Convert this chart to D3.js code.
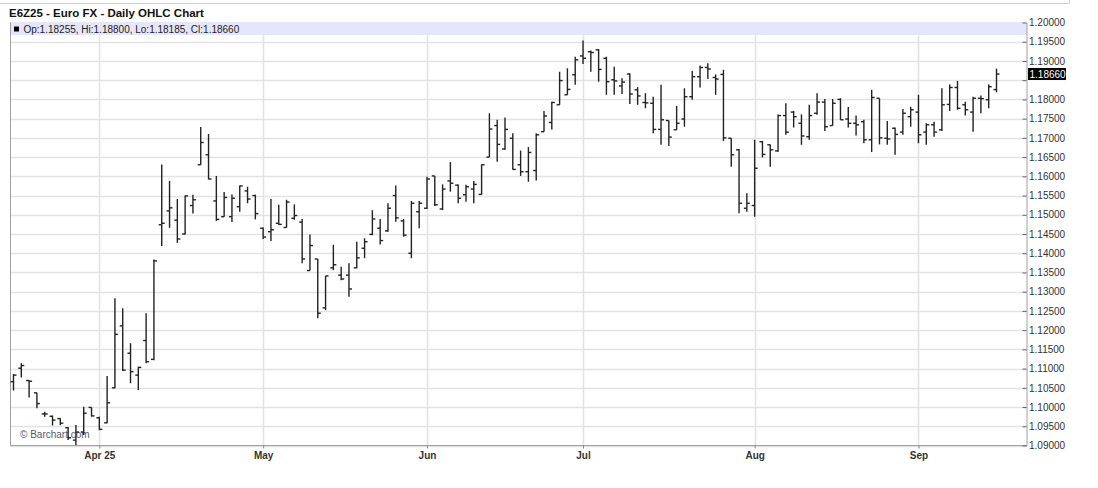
<!DOCTYPE html>
<html>
<head>
<meta charset="utf-8">
<script src="https://cdn.jsdelivr.net/npm/d3@7"></script>
<style>
  body { margin: 0; background: #fff; }
  svg { display: block; font-family: "Liberation Sans", Arial, sans-serif; }
</style>
</head>
<body>
<div id="chart"></div>
<script>
// trading days shown on the chart (Mar 17 - Sep 16, 2025)
const dates = [
  "2025-03-17","2025-03-18","2025-03-19","2025-03-20","2025-03-21","2025-03-24","2025-03-25","2025-03-26","2025-03-27","2025-03-28","2025-03-31",
  "2025-04-01","2025-04-02","2025-04-03","2025-04-04","2025-04-07","2025-04-08","2025-04-09","2025-04-10","2025-04-11","2025-04-14","2025-04-15",
  "2025-04-16","2025-04-17","2025-04-21","2025-04-22","2025-04-23","2025-04-24","2025-04-25","2025-04-28","2025-04-29","2025-04-30",
  "2025-05-01","2025-05-02","2025-05-05","2025-05-06","2025-05-07","2025-05-08","2025-05-09","2025-05-12","2025-05-13","2025-05-14","2025-05-15",
  "2025-05-16","2025-05-19","2025-05-20","2025-05-21","2025-05-22","2025-05-23","2025-05-27","2025-05-28","2025-05-29","2025-05-30",
  "2025-06-02","2025-06-03","2025-06-04","2025-06-05","2025-06-06","2025-06-09","2025-06-10","2025-06-11","2025-06-12","2025-06-13","2025-06-16",
  "2025-06-17","2025-06-18","2025-06-20","2025-06-23","2025-06-24","2025-06-25","2025-06-26","2025-06-27","2025-06-30",
  "2025-07-01","2025-07-02","2025-07-03","2025-07-07","2025-07-08","2025-07-09","2025-07-10","2025-07-11","2025-07-14","2025-07-15","2025-07-16",
  "2025-07-17","2025-07-18","2025-07-21","2025-07-22","2025-07-23","2025-07-24","2025-07-25","2025-07-28","2025-07-29","2025-07-30","2025-07-31",
  "2025-08-01","2025-08-04","2025-08-05","2025-08-06","2025-08-07","2025-08-08","2025-08-11","2025-08-12","2025-08-13","2025-08-14","2025-08-15",
  "2025-08-18","2025-08-19","2025-08-20","2025-08-21","2025-08-22","2025-08-25","2025-08-26","2025-08-27","2025-08-28","2025-08-29",
  "2025-09-02","2025-09-03","2025-09-04","2025-09-05","2025-09-08","2025-09-09","2025-09-10","2025-09-11","2025-09-12","2025-09-15","2025-09-16"
];

const opens = [
  1.1066,1.1101,1.1069,1.1037,1.0982,1.0976,1.0970,1.0946,1.0914,1.0935,1.0999,
  1.0972,1.0959,1.1050,1.1211,1.1140,1.1083,1.1173,1.1124,1.1474,1.1510,1.1486,
  1.1450,1.1524,1.1630,1.1656,1.1536,1.1495,1.1495,1.1521,1.1562,1.1550,
  1.1465,1.1456,1.1478,1.1467,1.1491,1.1481,1.1355,1.1385,1.1258,1.1362,1.1343,
  1.1343,1.1362,1.1413,1.1449,1.1465,1.1458,1.1550,1.1484,1.1400,1.1508,
  1.1517,1.1601,1.1515,1.1588,1.1577,1.1552,1.1567,1.1553,1.1650,1.1732,1.1671,
  1.1699,1.1630,1.1612,1.1615,1.1716,1.1740,1.1786,1.1812,1.1864,
  1.1913,1.1924,1.1929,1.1907,1.1851,1.1835,1.1866,1.1825,1.1792,1.1790,1.1722,
  1.1745,1.1721,1.1749,1.1807,1.1859,1.1883,1.1857,1.1865,1.1699,1.1669,1.1517,
  1.1524,1.1690,1.1682,1.1666,1.1758,1.1767,1.1738,1.1703,1.1764,1.1793,1.1732,
  1.1800,1.1749,1.1738,1.1742,1.1695,1.1803,1.1699,1.1725,1.1715,1.1755,
  1.1767,1.1715,1.1734,1.1721,1.1787,1.1831,1.1786,1.1767,1.1803,1.1799,1.18255
];
const highs = [
  1.1086,1.1114,1.1070,1.1037,1.0988,1.0978,1.0971,1.0948,1.0953,1.1001,1.0999,
  1.0975,1.1081,1.1283,1.1257,1.1166,1.1105,1.1244,1.1384,1.1631,1.1588,1.1541,
  1.1550,1.1552,1.1728,1.1710,1.1601,1.1559,1.1553,1.1576,1.1573,1.1552,
  1.1467,1.1541,1.1526,1.1539,1.1527,1.1489,1.1449,1.1385,1.1341,1.1422,1.1365,
  1.1374,1.1430,1.1439,1.1512,1.1489,1.1530,1.1576,1.1489,1.1536,1.1536,
  1.1599,1.1601,1.1579,1.1637,1.1579,1.1578,1.1588,1.1631,1.1764,1.1747,1.1753,
  1.1712,1.1667,1.1676,1.1712,1.1770,1.1794,1.1872,1.1881,1.1911,
  1.1953,1.1927,1.1931,1.1911,1.1885,1.1855,1.1868,1.1832,1.1816,1.1807,1.1838,
  1.1745,1.1783,1.1829,1.1874,1.1888,1.1894,1.1865,1.1877,1.1699,1.1671,1.1556,
  1.1695,1.1692,1.1683,1.1761,1.1790,1.1770,1.1761,1.1786,1.1816,1.1801,1.1801,
  1.1803,1.1780,1.1758,1.1747,1.1825,1.1803,1.1744,1.1727,1.1775,1.1781,
  1.1812,1.1738,1.1742,1.1829,1.1839,1.1848,1.1794,1.1807,1.1810,1.1839,1.18800
];
const lows = [
  1.1043,1.1077,1.1025,1.0997,1.0975,1.0952,1.0953,1.0914,1.0901,1.0927,1.0975,
  1.0940,1.0958,1.1049,1.1094,1.1062,1.1044,1.1114,1.1122,1.1419,1.1466,1.1427,
  1.1449,1.1503,1.1630,1.1592,1.1484,1.1495,1.1481,1.1508,1.1530,1.1488,
  1.1437,1.1432,1.1474,1.1467,1.1487,1.1374,1.1355,1.1231,1.1252,1.1356,1.1330,
  1.1287,1.1361,1.1387,1.1447,1.1423,1.1456,1.1482,1.1443,1.1387,1.1465,
  1.1515,1.1523,1.1512,1.1560,1.1530,1.1534,1.1530,1.1552,1.1650,1.1638,1.1669,
  1.1617,1.1601,1.1586,1.1589,1.1716,1.1722,1.1786,1.1812,1.1838,
  1.1892,1.1872,1.1846,1.1812,1.1812,1.1814,1.1788,1.1786,1.1777,1.1712,1.1682,
  1.1679,1.1721,1.1729,1.1799,1.1831,1.1853,1.1812,1.1692,1.1625,1.1504,1.1508,
  1.1495,1.1649,1.1625,1.1664,1.1708,1.1727,1.1682,1.1695,1.1760,1.1718,1.1732,
  1.1747,1.1727,1.1706,1.1686,1.1663,1.1683,1.1682,1.1656,1.1708,1.1729,
  1.1686,1.1682,1.1703,1.1718,1.1770,1.1773,1.1758,1.1716,1.1764,1.1777,1.18185
];
const closes = [
  1.1083,1.1108,1.1067,1.1009,1.0982,1.0966,1.0958,1.0920,1.0935,1.0984,1.0977,
  1.0942,1.1011,1.1189,1.1096,1.1092,1.1103,1.1118,1.1380,1.1478,1.1518,1.1437,
  1.1549,1.1539,1.1688,1.1593,1.1488,1.1545,1.1543,1.1575,1.1541,1.1503,
  1.1442,1.1461,1.1475,1.1533,1.1498,1.1385,1.1420,1.1244,1.1341,1.1370,1.1333,
  1.1307,1.1388,1.1430,1.1489,1.1433,1.1517,1.1492,1.1447,1.1530,1.1530,
  1.1593,1.1526,1.1567,1.1582,1.1543,1.1573,1.1579,1.1630,1.1723,1.1683,1.1722,
  1.1618,1.1612,1.1662,1.1708,1.1757,1.1792,1.1849,1.1826,1.1903,
  1.1907,1.1922,1.1878,1.1846,1.1848,1.1845,1.1814,1.1809,1.1791,1.1722,1.1747,
  1.1702,1.1738,1.1807,1.1859,1.1883,1.1879,1.1853,1.1700,1.1656,1.1530,1.1530,
  1.1621,1.1657,1.1669,1.1758,1.1715,1.1755,1.1705,1.1758,1.1793,1.1729,1.1790,
  1.1747,1.1738,1.1734,1.1695,1.1805,1.1700,1.1697,1.1709,1.1764,1.1773,
  1.1708,1.1734,1.1715,1.1786,1.1831,1.1777,1.1773,1.1803,1.1802,1.1833,1.18660
];

// axis labels
const monthTickDates = ["2025-04-01","2025-05-01","2025-06-02","2025-07-01","2025-08-01","2025-09-02"];
const monthTickLabels = ["Apr 25","May","Jun","Jul","Aug","Sep"];
const priceTicks = [1.090,1.095,1.100,1.105,1.110,1.115,1.120,1.125,1.130,1.135,1.140,1.145,
                    1.150,1.155,1.160,1.165,1.170,1.175,1.180,1.185,1.190,1.195,1.200];

const data = dates.map((d, i) => ({date: d, o: opens[i], h: highs[i], l: lows[i], c: closes[i]}));
const last = data[data.length - 1];
const fmt = d3.format(".5f");

const W = 1098, H = 488;
const plot = {left: 10, right: 1027, top: 22.5, bottom: 445.5};

const svg = d3.select("#chart").append("svg")
    .attr("width", W)
    .attr("height", H);

const x = d3.scalePoint().domain(dates).range([13.5, 996.5]);
const y = d3.scaleLinear().domain([1.09, 1.20]).range([plot.bottom, plot.top]);

// thin line left over from the page box above the chart
svg.append("path")
    .attr("d", "M0,3.5H1069.5V0")
    .attr("fill", "none")
    .attr("stroke", "#d0d0d0");

// title
svg.append("text")
    .attr("x", 9)
    .attr("y", 16.5)
    .attr("font-size", "11.5px")
    .attr("font-weight", "bold")
    .attr("fill", "#111")
    .text("E6Z25 - Euro FX - Daily OHLC Chart");

// horizontal grid
svg.append("g")
    .selectAll("line")
    .data(priceTicks)
    .enter().append("line")
        .attr("x1", plot.left)
        .attr("x2", plot.right)
        .attr("y1", d => Math.round(y(d)) + 0.5)
        .attr("y2", d => Math.round(y(d)) + 0.5)
        .attr("stroke", "#e3e3e3")
        .attr("stroke-width", 1.6);

// vertical grid at month starts
svg.append("g")
    .selectAll("line")
    .data(monthTickDates)
    .enter().append("line")
        .attr("x1", d => Math.round(x(d)) + 0.5)
        .attr("x2", d => Math.round(x(d)) + 0.5)
        .attr("y1", plot.top)
        .attr("y2", plot.bottom)
        .attr("stroke", "#e3e3e3")
        .attr("stroke-width", 1.6);

// info band with last bar values
svg.append("rect")
    .attr("x", plot.left)
    .attr("y", plot.top - 0.5)
    .attr("width", plot.right - plot.left)
    .attr("height", 13)
    .attr("fill", "#e6e6fa");

svg.append("rect")
    .attr("x", 14)
    .attr("y", 26.5)
    .attr("width", 5)
    .attr("height", 5)
    .attr("fill", "#000");

svg.append("text")
    .attr("x", 23.5)
    .attr("y", 32.5)
    .attr("font-size", "10px")
    .attr("fill", "#222")
    .text("Op:" + fmt(last.o) + ", Hi:" + fmt(last.h) + ", Lo:" + fmt(last.l) + ", Cl:" + fmt(last.c));

// watermark
svg.append("text")
    .attr("x", 20)
    .attr("y", 437.5)
    .attr("font-size", "10px")
    .attr("fill", "#555b66")
    .text("\u00a9 Barchart.com");

// frame: left and bottom
svg.append("path")
    .attr("d", `M${plot.left + 0.5},${plot.top}V${plot.bottom}H${plot.right}`)
    .attr("fill", "none")
    .attr("stroke", "#a0a0a0");

// right price axis
const lastY = y(last.c);
const yAxis = d3.axisRight(y)
    .tickValues(priceTicks)
    .tickFormat(fmt)
    .tickSizeOuter(0)
    .tickPadding(3);

svg.append("g")
    .attr("class", "y axis")
    .attr("transform", `translate(${plot.right - 0.5},0)`)
    .call(yAxis)
    .call(g => g.select(".domain").attr("stroke", "#a0a0a0"))
    .call(g => g.selectAll(".tick line").attr("x2", -4).attr("stroke", "#666"))
    .call(g => g.selectAll(".tick text")
        .attr("x", 2.5)
        .attr("font-family", "Liberation Sans, Arial, sans-serif")
        .attr("font-size", "10px")
        .attr("fill", "#333"))
    // the last-price box hides the label it sits on
    .call(g => g.selectAll(".tick text")
        .filter(d => Math.abs(y(d) - lastY) < 10)
        .remove());

// bottom month axis
const xAxis = d3.axisBottom(x)
    .tickValues(monthTickDates)
    .tickFormat((d, i) => monthTickLabels[i])
    .tickSize(3)
    .tickPadding(3);

svg.append("g")
    .attr("class", "x axis")
    .attr("transform", `translate(0,${plot.bottom})`)
    .call(xAxis)
    .call(g => g.select(".domain").remove())
    .call(g => g.selectAll(".tick line").attr("stroke", "#888"))
    .call(g => g.selectAll(".tick text")
        .attr("font-family", "Liberation Sans, Arial, sans-serif")
        .attr("font-size", "10px")
        .attr("font-weight", "bold")
        .attr("fill", "#333"));

// OHLC bars
const bars = svg.append("g")
    .attr("stroke", "#222")
    .attr("stroke-width", 1.4)
    .selectAll("g")
    .data(data)
    .enter().append("g");

bars.append("line")
    .attr("x1", d => x(d.date))
    .attr("x2", d => x(d.date))
    .attr("y1", d => y(d.h))
    .attr("y2", d => y(d.l));

bars.append("line")
    .attr("x1", d => x(d.date) - 3)
    .attr("x2", d => x(d.date))
    .attr("y1", d => y(d.o))
    .attr("y2", d => y(d.o));

bars.append("line")
    .attr("x1", d => x(d.date))
    .attr("x2", d => x(d.date) + 3)
    .attr("y1", d => y(d.c))
    .attr("y2", d => y(d.c));

// last price marker on the axis
svg.append("rect")
    .attr("x", plot.right + 1)
    .attr("y", lastY - 6)
    .attr("width", 38)
    .attr("height", 12)
    .attr("fill", "#000");

svg.append("text")
    .attr("x", plot.right + 2.5)
    .attr("y", lastY + 3.5)
    .attr("font-size", "10px")
    .attr("fill", "#fff")
    .text(fmt(last.c));
</script>
</body>
</html>
